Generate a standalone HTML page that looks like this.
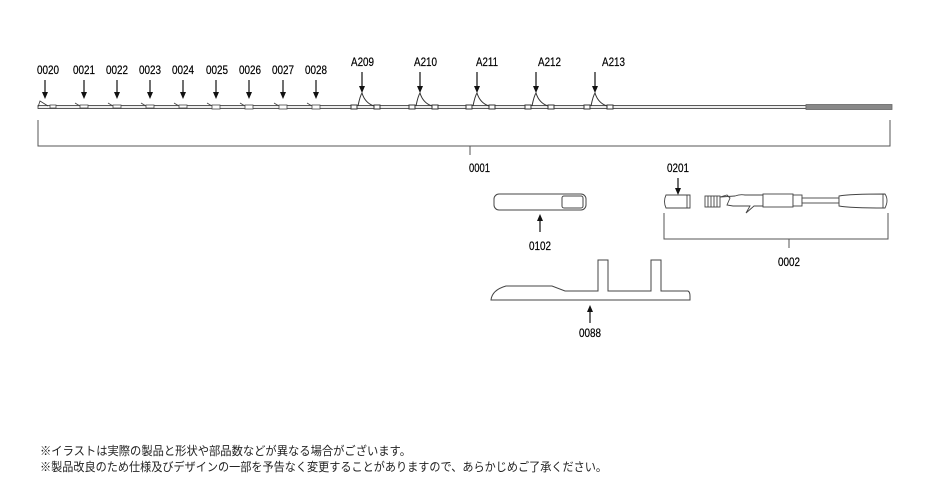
<!DOCTYPE html>
<html><head><meta charset="utf-8"><style>
html,body{margin:0;padding:0;background:#fff;width:940px;height:504px;overflow:hidden}
svg text{font-family:"Liberation Sans","Noto Sans CJK JP",sans-serif}
</style></head><body>
<svg width="940" height="504" viewBox="0 0 940 504" xmlns="http://www.w3.org/2000/svg">
<g font-size="11.5" fill="#000" stroke="#000" stroke-width="0.2" lengthAdjust="spacingAndGlyphs">
<text lengthAdjust="spacingAndGlyphs" x="37" y="74" textLength="22">0020</text><text lengthAdjust="spacingAndGlyphs" x="73" y="74" textLength="22">0021</text><text lengthAdjust="spacingAndGlyphs" x="106" y="74" textLength="22">0022</text><text lengthAdjust="spacingAndGlyphs" x="139" y="74" textLength="22">0023</text><text lengthAdjust="spacingAndGlyphs" x="172" y="74" textLength="22">0024</text><text lengthAdjust="spacingAndGlyphs" x="206" y="74" textLength="22">0025</text><text lengthAdjust="spacingAndGlyphs" x="239" y="74" textLength="22">0026</text><text lengthAdjust="spacingAndGlyphs" x="272" y="74" textLength="22">0027</text><text lengthAdjust="spacingAndGlyphs" x="305" y="74" textLength="22">0028</text>
<text lengthAdjust="spacingAndGlyphs" x="351" y="66" textLength="23">A209</text><text lengthAdjust="spacingAndGlyphs" x="414" y="66" textLength="23">A210</text><text lengthAdjust="spacingAndGlyphs" x="476" y="66" textLength="22">A211</text><text lengthAdjust="spacingAndGlyphs" x="538" y="66" textLength="23">A212</text><text lengthAdjust="spacingAndGlyphs" x="602" y="66" textLength="23">A213</text>
<text lengthAdjust="spacingAndGlyphs" x="469" y="172" textLength="21">0001</text><text lengthAdjust="spacingAndGlyphs" x="667" y="172" textLength="22">0201</text><text lengthAdjust="spacingAndGlyphs" x="529" y="250" textLength="22">0102</text><text lengthAdjust="spacingAndGlyphs" x="778" y="266" textLength="22">0002</text><text lengthAdjust="spacingAndGlyphs" x="579" y="337" textLength="22">0088</text>
</g>
<g stroke="#111" stroke-width="1.2">
<line x1="45" y1="80" x2="45" y2="92"/><line x1="84" y1="80" x2="84" y2="92"/><line x1="117" y1="80" x2="117" y2="92"/><line x1="150" y1="80" x2="150" y2="92"/><line x1="183" y1="80" x2="183" y2="92"/><line x1="216" y1="80" x2="216" y2="92"/><line x1="249" y1="80" x2="249" y2="92"/><line x1="283" y1="80" x2="283" y2="92"/><line x1="316" y1="80" x2="316" y2="92"/>
<line x1="362" y1="72" x2="362" y2="86"/><line x1="420" y1="72" x2="420" y2="86"/><line x1="477" y1="72" x2="477" y2="86"/><line x1="536" y1="72" x2="536" y2="86"/><line x1="595" y1="72" x2="595" y2="86"/>
<line x1="678" y1="178" x2="678" y2="188"/><line x1="540" y1="232" x2="540" y2="221"/><line x1="590" y1="323" x2="590" y2="312"/>
</g>
<g fill="#111">
<path d="M42,92h6l-3,7z"/><path d="M81,92h6l-3,7z"/><path d="M114,92h6l-3,7z"/><path d="M147,92h6l-3,7z"/><path d="M180,92h6l-3,7z"/><path d="M213,92h6l-3,7z"/><path d="M246,92h6l-3,7z"/><path d="M280,92h6l-3,7z"/><path d="M313,92h6l-3,7z"/>
<path d="M359,86h6l-3,7z"/><path d="M417,86h6l-3,7z"/><path d="M474,86h6l-3,7z"/><path d="M533,86h6l-3,7z"/><path d="M592,86h6l-3,7z"/>
<path d="M675,188h6l-3,7z"/><path d="M537,221h6l-3,-7z"/><path d="M587,312h6l-3,-7z"/>
</g>
<g stroke="#333" stroke-width="0.8" fill="#fff">
<rect x="38" y="105.5" width="768" height="3" fill="#eee"/>
<rect x="806" y="104.5" width="86" height="5" fill="#888" stroke="#666"/>
<path d="M38,107 L40,101 L48,106" fill="none"/>
</g>
<g stroke="#444" stroke-width="0.8" fill="#fff">
<rect x="50" y="105" width="6" height="3"/>
<path d="M75,103 l5,3" fill="none"/><rect x="80" y="105" width="8" height="3"/>
<path d="M108,103 l5,3" fill="none"/><rect x="113" y="105" width="8" height="3"/>
<path d="M141,103 l5,3" fill="none"/><rect x="146" y="105" width="8" height="3"/>
<path d="M174,103 l5,3" fill="none"/><rect x="179" y="105" width="8" height="3"/>
<path d="M207,103 l5,3" fill="none"/><rect x="212" y="105" width="8" height="4"/>
<path d="M240,103 l5,3" fill="none"/><rect x="245" y="105" width="8" height="4"/>
<path d="M274,103 l5,3" fill="none"/><rect x="279" y="105" width="8" height="4"/>
<path d="M307,103 l5,3" fill="none"/><rect x="312" y="105" width="8" height="4"/>
</g>
<g stroke="#333" stroke-width="1" fill="#fff">
<g id="g1"><rect x="351" y="105" width="6" height="4"/><rect x="374" y="105" width="6" height="4"/><path d="M358,106 Q360,96 362,93 Q365,103 374,106" fill="none"/></g>
<use href="#g1" x="58"/><use href="#g1" x="115"/><use href="#g1" x="174"/><use href="#g1" x="233"/>
</g>
<g stroke="#555" stroke-width="1" fill="none">
<path d="M38,120 V146 H890 V120"/><line x1="470" y1="146" x2="470" y2="155"/>
<path d="M664,213 V239 H888 V213"/><line x1="789" y1="239" x2="789" y2="248"/>
</g>
<g stroke="#444" stroke-width="1" fill="#fff">
<rect x="494" y="194" width="92" height="16" rx="5"/>
<rect x="562" y="196" width="21" height="12" rx="2"/>
</g>
<g stroke="#444" stroke-width="0.9" fill="#fff">
<path d="M666,195 H690 V208 H666 Q663,201.5 666,195z"/><line x1="687" y1="195" x2="687" y2="208"/>
<rect x="705" y="196" width="15" height="11"/>
<path d="M708,196v11M711,196v11M714,196v11M717,196v11" />
<path d="M720,197 L727,195 L730,198 L727,205 L733,206 L750,206 L746,213 L754,206 L763,206 V195 L750,195 L745,195 Q740,194 735,196z"/>
<rect x="763" y="194" width="30" height="13"/>
<rect x="793" y="195" width="9" height="11"/>
<rect x="802" y="198" width="37" height="5"/>
<path d="M839,196 Q850,194 885,194 Q889,200 885,208 Q850,208 839,206z"/><line x1="883" y1="194" x2="883" y2="208"/>
</g>
<path d="M491,300 Q492,290 506,286 L552,286 L565,291 L598,291 V260 H608 V291 H651 V260 H661 V291 H688 Q690,292 690,296 V300z" fill="#fff" stroke="#444" stroke-width="1"/>
<g font-size="12" fill="#222">
<text x="40" y="455" textLength="371" lengthAdjust="spacingAndGlyphs">※イラストは実際の製品と形状や部品数などが異なる場合がございます。</text>
<text x="40" y="471" textLength="567" lengthAdjust="spacingAndGlyphs">※製品改良のため仕様及びデザインの一部を予告なく変更することがありますので、あらかじめご了承ください。</text>
</g>
</svg>
</body></html>
